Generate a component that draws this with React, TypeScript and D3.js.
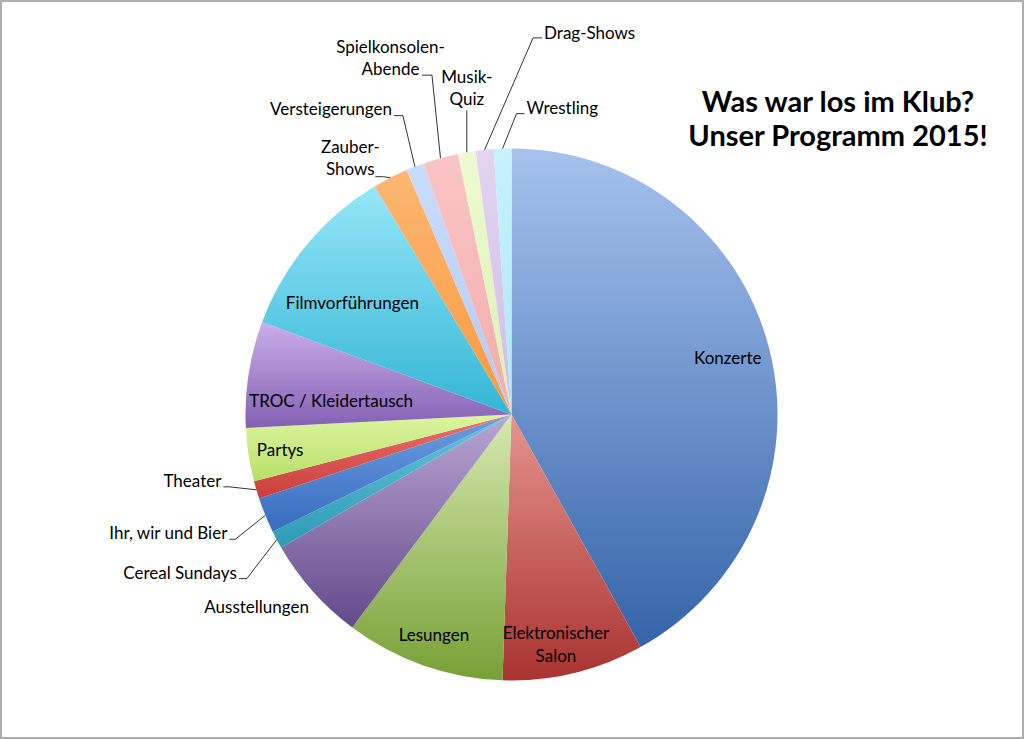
import React, { useEffect, useRef } from "react";
import * as d3 from "d3";

// Programm 2015, Anzahl Veranstaltungen je Kategorie
const categories = [
  "Konzerte",
  "Elektronischer Salon",
  "Lesungen",
  "Ausstellungen",
  "Cereal Sundays",
  "Ihr, wir und Bier",
  "Theater",
  "Partys",
  "TROC / Kleidertausch",
  "Filmvorführungen",
  "Zauber-Shows",
  "Versteigerungen",
  "Spielkonsolen-Abende",
  "Musik-Quiz",
  "Drag-Shows",
  "Wrestling",
];
const values = [39, 8, 9, 6, 1, 2, 1, 3, 6, 10, 2, 1, 2, 1, 1, 1];

// label text split into lines
const labelLines = [
  ["Konzerte"],
  ["Elektronischer", "Salon"],
  ["Lesungen"],
  ["Ausstellungen"],
  ["Cereal Sundays"],
  ["Ihr, wir und Bier"],
  ["Theater"],
  ["Partys"],
  ["TROC / Kleidertausch"],
  ["Filmvorführungen"],
  ["Zauber-", "Shows"],
  ["Versteigerungen"],
  ["Spielkonsolen-", "Abende"],
  ["Musik-", "Quiz"],
  ["Drag-Shows"],
  ["Wrestling"],
];

const lightColors = [
  "#a6c2ed", "#e6948f", "#d6e9b0", "#b9a6d3", "#62c6dc", "#6c9de2",
  "#ea726e", "#ddf5a0", "#c9afe9", "#95e7f8", "#fdb672", "#cadcfb",
  "#fbc5c5", "#eefad2", "#e2d4f1", "#c6f2fb",
];
const darkColors = [
  "#3464a9", "#a93330", "#77a035", "#634a8b", "#2e9ab4", "#386cbe",
  "#ca3e3a", "#b7df68", "#8460b3", "#33b6d5", "#f8993f", "#b2cbf5",
  "#f1acac", "#daf1b2", "#d1bce7", "#aee8f5",
];

// label placement: inside (radius factor, angle nudge in degrees) or
// outside (offset from rim point to elbow, horizontal tail, text offset)
const labelLayout: any[] = [
  { inside: true, rf: 0.84, da: 0 },
  { inside: true, rf: 0.88, da: 2.6 },
  { inside: true, rf: 0.88, da: 0 },
  { inside: false, leader: false, ex: -56, ey: 22, hx: 0, tx: 0, ty: 0, anchor: "middle" },
  { inside: false, leader: true, ex: -30, ey: 39, hx: -8, tx: -2, ty: 0, anchor: "end" },
  { inside: false, leader: true, ex: -30, ey: 24, hx: -6, tx: -2, ty: 0, anchor: "end" },
  { inside: false, leader: true, ex: -27, ey: -3, hx: -6, tx: -2, ty: 0, anchor: "end" },
  { inside: true, rf: 0.88, da: 0 },
  { inside: true, rf: 0.68, da: -4.4 },
  { inside: true, rf: 0.73, da: -4.7 },
  { inside: false, leader: true, ex: -7, ey: -1, hx: -8, tx: -25, ty: -2, anchor: "middle" },
  { inside: false, leader: true, ex: -12, ey: -51, hx: -9, tx: -2, ty: -1, anchor: "end" },
  { inside: false, leader: true, ex: -8.5, ey: -83, hx: -10, tx: -31.5, ty: 0, anchor: "middle" },
  { inside: false, leader: true, ex: 0, ey: -42, hx: 0, tx: 0, ty: -5, anchor: "middle" },
  { inside: false, leader: true, ex: 48.5, ey: -112, hx: 9, tx: 2, ty: 1, anchor: "start" },
  { inside: false, leader: true, ex: 14, ey: -35, hx: 8, tx: 2, ty: 0, anchor: "start" },
];

const titleLines = ["Was war los im Klub?", "Unser Programm 2015!"];

export default function App() {
  const svgRef = useRef<SVGSVGElement>(null);

  useEffect(() => {
    const svgWidth = 1024;
    const svgHeight = 739;
    const cx = 511.5;
    const cy = 414.5;
    const radius = 266;
    const font = "Lato, 'Open Sans', sans-serif";
    const fontSize = 17;
    const lineHeight = 22;

    const svg = d3.select(svgRef.current);
    svg.selectAll("*").remove();

    svg
      .append("rect")
      .attr("x", 1)
      .attr("y", 1)
      .attr("width", svgWidth - 2)
      .attr("height", svgHeight - 2)
      .attr("fill", "#fff")
      .attr("stroke", "#adadad")
      .attr("stroke-width", 2);

    // one vertical gradient per slice (light top -> dark bottom)
    const defs = svg.append("defs");
    categories.forEach((c, i) => {
      const grad = defs
        .append("linearGradient")
        .attr("id", "grad" + i)
        .attr("x1", 0)
        .attr("y1", 0)
        .attr("x2", 0)
        .attr("y2", 1);
      grad.append("stop").attr("offset", "0%").attr("stop-color", lightColors[i]);
      grad.append("stop").attr("offset", "100%").attr("stop-color", darkColors[i]);
    });

    const data = categories.map((c, i) => ({ name: c, value: values[i], index: i }));
    const pie = d3
      .pie<any>()
      .sort(null)
      .value((d) => d.value);
    const arcs = pie(data);

    const arc = d3.arc<any>().innerRadius(0).outerRadius(radius);
    const g = svg.append("g").attr("transform", `translate(${cx},${cy})`);

    g.selectAll("path.slice")
      .data(arcs)
      .enter()
      .append("path")
      .attr("class", "slice")
      .attr("d", arc)
      .attr("fill", (d) => `url(#grad${d.index})`);

    const rimArc = d3.arc<any>().innerRadius(radius).outerRadius(radius);

    arcs.forEach((d, i) => {
      const lay = labelLayout[i];
      const lines = labelLines[i];
      const mid = (d.startAngle + d.endAngle) / 2;

      if (lay.inside) {
        const [x, y] = d3.pointRadial(mid + (lay.da * Math.PI) / 180, radius * lay.rf);
        const t = g
          .append("text")
          .attr("x", x)
          .attr("y", y)
          .attr("text-anchor", "middle")
          .style("font-family", font)
          .style("font-size", fontSize + "px")
          .attr("fill", "#000");
        lines.forEach((line, k) => {
          t.append("tspan")
            .attr("x", x)
            .attr("y", y + (k - (lines.length - 1) / 2) * 23 + fontSize * 0.35)
            .text(line);
        });
        return;
      }

      const [rx, ry] = rimArc.centroid(d);
      const ex = rx + lay.ex;
      const ey = ry + lay.ey;
      const hx = ex + lay.hx;

      if (lay.leader) {
        g.append("path")
          .attr("d", d3.line()([[rx, ry], [ex, ey], [hx, ey]]))
          .attr("fill", "none")
          .attr("stroke", "#333")
          .attr("stroke-width", 1);
      }

      const tx = hx + lay.tx;
      const ty = ey + lay.ty;
      const t = g
        .append("text")
        .attr("text-anchor", lay.anchor)
        .style("font-family", font)
        .style("font-size", fontSize + "px")
        .attr("fill", "#000");
      lines.forEach((line, k) => {
        t.append("tspan")
          .attr("x", tx)
          .attr("y", ty - (lines.length - 1 - k) * lineHeight)
          .text(line);
      });
    });

    // chart title
    const title = svg
      .append("text")
      .attr("text-anchor", "middle")
      .style("font-family", font)
      .style("font-size", "29px")
      .style("font-weight", "bold")
      .attr("fill", "#000");
    titleLines.forEach((line, k) => {
      title
        .append("tspan")
        .attr("x", 838)
        .attr("y", 112 + k * 34)
        .text(line);
    });
  }, []);

  return (
    <div style={{ position: "absolute", left: 0, top: 0 }}>
      <svg ref={svgRef} width={1024} height={739} style={{ display: "block" }}></svg>
    </div>
  );
}
